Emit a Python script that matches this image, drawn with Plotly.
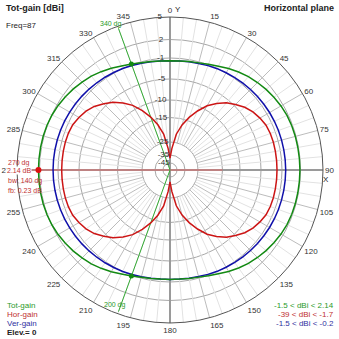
import numpy as np
import plotly.graph_objects as go

# ---------------- data (dBi, horizontal plane, azimuth in degrees) ----------------
ANGLES = list(range(0, 360, 5))

TOT_GAIN = [
    -1.5, -1.47, -1.37, -1.21, -0.9, -0.6, -0.16, 0.23, 0.62, 0.9, 1.18, 1.41, 1.62, 1.77, 1.85, 1.88, 1.89, 1.9, 1.91,
    1.9, 1.89, 1.88, 1.85, 1.77, 1.62, 1.41, 1.18, 0.9, 0.62, 0.23, -0.16, -0.6, -0.9, -1.21, -1.37, -1.47,
    -1.5,
    -1.47, -1.36, -1.19, -0.86, -0.55, -0.1, 0.3, 0.7, 1.0, 1.3, 1.55, 1.78, 1.95, 2.05, 2.1, 2.12, 2.13,
    2.14,
    2.13, 2.12, 2.1, 2.05, 1.95, 1.78, 1.55, 1.3, 1.0, 0.7, 0.3, -0.1, -0.55, -0.86, -1.19, -1.36, -1.47,
]

HOR_GAIN = [
    -39, -29.8, -21.6, -17.4, -14.0, -11.4, -9.0, -7.35, -5.8, -4.7, -3.75, -3.05, -2.55, -2.15, -2.0, -1.95, -1.95, -1.95, -1.95,
    -1.95, -1.95, -1.95, -2.0, -2.15, -2.55, -3.05, -3.75, -4.7, -5.8, -7.35, -9.0, -11.4, -14.0, -17.4, -21.6, -29.8,
    -39,
    -29.8, -21.5, -17.3, -13.9, -11.3, -8.9, -7.2, -5.6, -4.5, -3.5, -2.8, -2.3, -1.9, -1.75, -1.7, -1.7, -1.7,
    -1.7,
    -1.7, -1.7, -1.7, -1.75, -1.9, -2.3, -2.8, -3.5, -4.5, -5.6, -7.2, -8.9, -11.3, -13.9, -17.3, -21.5, -29.8,
]

VER_GAIN = [
    -1.5, -1.48, -1.41, -1.32, -1.18, -1.04, -0.95, -0.86, -0.78, -0.7, -0.64, -0.58, -0.52, -0.48, -0.45, -0.43, -0.42, -0.41, -0.4,
    -0.41, -0.42, -0.43, -0.45, -0.48, -0.52, -0.58, -0.64, -0.7, -0.78, -0.86, -0.95, -1.04, -1.18, -1.32, -1.41, -1.48,
    -1.5,
    -1.48, -1.4, -1.3, -1.15, -1.0, -0.9, -0.8, -0.7, -0.6, -0.52, -0.45, -0.38, -0.32, -0.27, -0.24, -0.22, -0.2,
    -0.2,
    -0.2, -0.22, -0.24, -0.27, -0.32, -0.38, -0.45, -0.52, -0.6, -0.7, -0.8, -0.9, -1.0, -1.15, -1.3, -1.4, -1.48,
]

RADIAL_TICKS_DB = [5, 2, -1, -5, -10, -15, -25, -35, -45]
RADIAL_TICK_LABELS = ["5", "2", "-1", "-5", "-10", "-15", "-25", "-35", "-45"]
ANGLE_TICKS = list(range(0, 360, 15))
ANGLE_LABELS = [str(a) for a in ANGLE_TICKS]

MAX_DIR = 270          # direction of maximum
BW_DIRS = [340, 200]   # -3 dB beamwidth directions

# ---------------- MMANA-like compressed dB scale ----------------
SCALE_DB = [-45, -35, -25, -15, -10, -5, -1, 2, 5]
SCALE_R = [7, 15, 28, 52.5, 70, 91, 112, 130.5, 153]


def rs(db):
    return np.interp(np.asarray(db, dtype=float), SCALE_DB, SCALE_R) / SCALE_R[-1]


W = H = 339
CX, CY, R = 170, 170, 153

GREEN = "#138a13"
RED = "#cc1515"
BLUE = "#1010aa"
FONT = "Liberation Sans"

fig = go.Figure()

# spokes (5 deg light, 15 deg darker) from -25 dB circle outward
r_in = float(rs(-25))
for step_major, col in ((False, "#e2e2e2"), (True, "#bcbcbc")):
    rr, tt = [], []
    for a in range(0, 360, 5):
        if (a % 15 == 0) != step_major or a % 90 == 0:
            continue
        rr += [r_in, 1, None]
        tt += [a, a, None]
    fig.add_trace(go.Scatterpolar(r=rr, theta=tt, mode="lines",
                                  line=dict(color=col, width=1), hoverinfo="skip"))

# main axes
fig.add_trace(go.Scatterpolar(r=[1, 0, 1], theta=[0, 0, 180], mode="lines",
                              line=dict(color="#9a9a9a", width=2), hoverinfo="skip"))
fig.add_trace(go.Scatterpolar(r=[1, 0, 1], theta=[90, 90, 270], mode="lines",
                              line=dict(color="#9a9a9a", width=2), hoverinfo="skip"))
# max-direction marker line
fig.add_trace(go.Scatterpolar(r=[1, 0, float(rs(-15))], theta=[270, 270, 90], mode="lines",
                              line=dict(color="rgba(205,120,120,0.7)", width=2), hoverinfo="skip"))
# beamwidth rays
for d in BW_DIRS:
    fig.add_trace(go.Scatterpolar(r=[0, 0.985], theta=[d, d], mode="lines",
                                  line=dict(color="#33aa33", width=1), hoverinfo="skip"))

# curves
th = ANGLES + [ANGLES[0]]
fig.add_trace(go.Scatterpolar(r=rs(VER_GAIN + [VER_GAIN[0]]), theta=th, mode="lines",
                              line=dict(color=BLUE, width=1.5), name="Ver-gain"))
fig.add_trace(go.Scatterpolar(r=rs(TOT_GAIN + [TOT_GAIN[0]]), theta=th, mode="lines",
                              line=dict(color=GREEN, width=1.5), name="Tot-gain"))
fig.add_trace(go.Scatterpolar(r=rs(HOR_GAIN + [HOR_GAIN[0]]), theta=th, mode="lines",
                              line=dict(color=RED, width=1.5), name="Hor-gain"))

# markers
bw_r = [TOT_GAIN[ANGLES.index(d)] for d in BW_DIRS]
fig.add_trace(go.Scatterpolar(r=rs(bw_r), theta=BW_DIRS, mode="markers",
                              marker=dict(color=GREEN, size=5), hoverinfo="skip"))
fig.add_trace(go.Scatterpolar(r=rs([TOT_GAIN[ANGLES.index(MAX_DIR)]]), theta=[MAX_DIR], mode="markers",
                              marker=dict(color="#dd1111", size=6), hoverinfo="skip"))

# radial tick labels, just left of the 0 deg axis
fig.add_trace(go.Scatterpolar(r=rs(RADIAL_TICKS_DB), theta=[357] * len(RADIAL_TICKS_DB), mode="text",
                              text=RADIAL_TICK_LABELS, textposition="middle left",
                              textfont=dict(family=FONT, size=8, color="#333"), hoverinfo="skip"))


def P(x, y):
    return x / W, 1 - y / H


ann = []


def add(text, x, y, xa="left", color="#222", size=8, bold=False, bg=None):
    px, py = P(x, y)
    d = dict(text=("<b>%s</b>" % text) if bold else text, x=px, y=py, xref="paper", yref="paper",
             xanchor=xa, yanchor="middle", showarrow=False,
             font=dict(family=FONT, size=size, color=color))
    if bg:
        d["bgcolor"] = bg
        d["borderpad"] = 0
    ann.append(d)


add("Tot-gain [dBi]", 4, 8, bold=True, size=9)
add("Freq=87", 4, 26)
add("Horizontal plane", 336, 8, xa="right", bold=True, size=9)
add("Y", 178, 10, xa="center")
add("X", 326, 179, xa="center")
add("340 dg", 111, 24, xa="center", color="#2a9a2a", size=7)
add("200 dg", 115, 305, xa="center", color="#2a9a2a", size=7)
add("270 dg", 6, 163, color="#c03030", size=7)
add("2.14 dB", 6, 170.5, color="#c03030", size=7, bg="white")
add("bw: 140 dg", 6, 180.5, color="#c03030", size=7)
add("fb: 0.23 dB", 6, 190, color="#c03030", size=7)
add("Tot-gain", 5, 305, color="#2a9a2a")
add("Hor-gain", 5, 314, color="#c03030")
add("Ver-gain", 5, 323, color="#3030a0")
add("Elev.= 0", 5, 332, bold=True)
add("-1.5 &lt; dBi &lt; 2.14", 336, 305, xa="right", color="#2a9a2a")
add("-39 &lt; dBi &lt; -1.7", 336, 314, xa="right", color="#c03030")
add("-1.5 &lt; dBi &lt; -0.2", 336, 323, xa="right", color="#3030a0")

fig.update_layout(
    width=W, height=H, margin=dict(l=0, r=0, t=0, b=0),
    paper_bgcolor="white", showlegend=False, annotations=ann,
    polar=dict(
        domain=dict(x=[(CX - R) / W, (CX + R) / W], y=[(H - CY - R) / H, (H - CY + R) / H]),
        bgcolor="white",
        angularaxis=dict(rotation=90, direction="clockwise", tickvals=ANGLE_TICKS, ticktext=ANGLE_LABELS,
                         showgrid=False, ticks="", showline=True, linecolor="#555", linewidth=1,
                         tickfont=dict(family=FONT, size=8, color="#333")),
        radialaxis=dict(range=[0, 1], tickvals=list(rs(RADIAL_TICKS_DB)), showticklabels=False,
                        ticks="", showline=False, gridcolor="#a8a8a8", gridwidth=1),
    ),
)

fig.write_html("out.html")
